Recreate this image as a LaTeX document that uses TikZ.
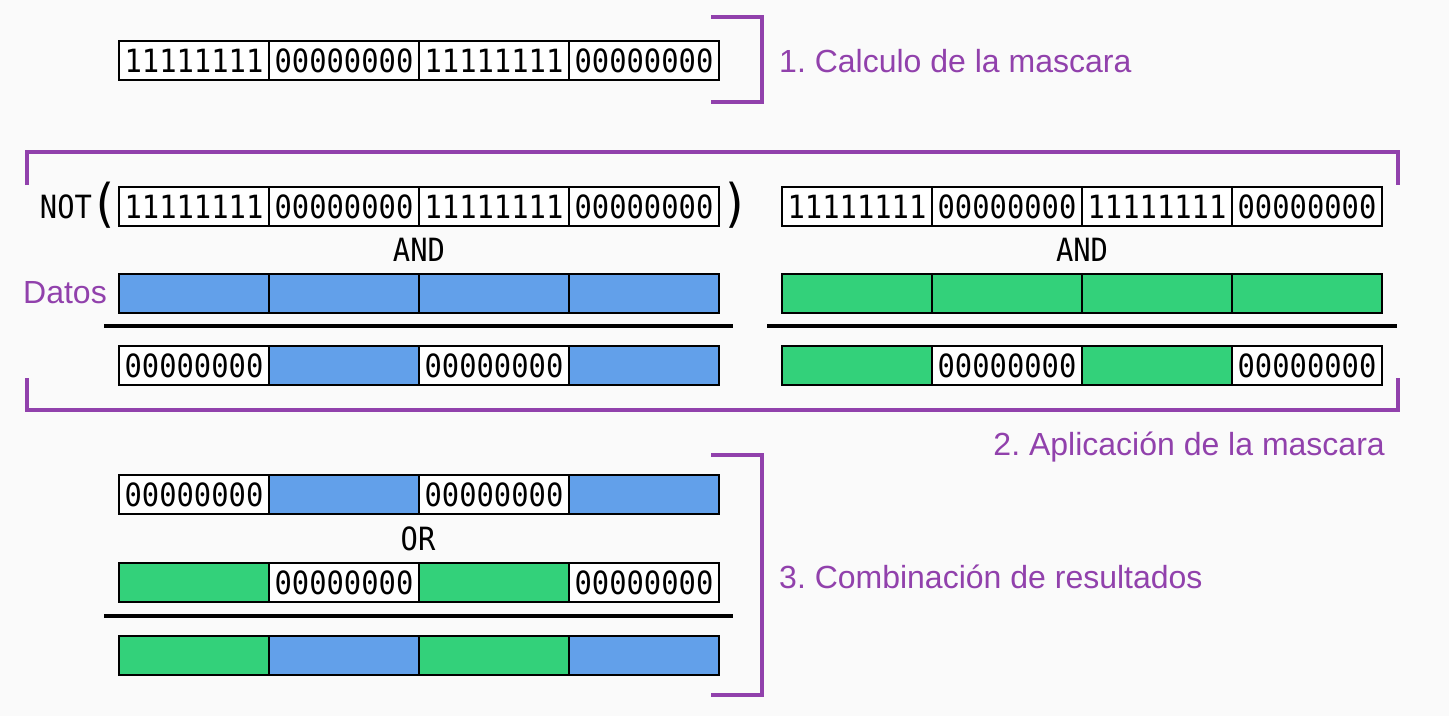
\documentclass[tikz,border=0pt]{standalone}
\usepackage{fontspec}
\setmainfont{Liberation Sans}
\newfontfamily\monof[FakeStretch=0.9]{DejaVu Sans Mono}
\definecolor{bg}{HTML}{FAFAFA}
\definecolor{pur}{HTML}{9141AC}
\definecolor{blu}{HTML}{62A0EA}
\definecolor{grn}{HTML}{33D17A}
\frenchspacing
\begin{document}
\begin{tikzpicture}[x=1pt,y=-1pt,
 cell/.style={draw=black,line width=2.5pt,minimum width=150pt,minimum height=39pt,inner sep=0pt,font=\monof\fontsize{32}{32}\selectfont},
 wcell/.style={cell,fill=white},
 bcell/.style={cell,fill=blu},
 gcell/.style={cell,fill=grn},
 brk/.style={draw=pur,line width=4pt},
 lab/.style={text=pur,font=\fontsize{32}{38}\selectfont,inner sep=0pt},
 op/.style={font=\monof\fontsize{32}{32}\selectfont,inner sep=0pt},
 par/.style={font=\monof\fontsize{52}{52}\selectfont,inner sep=0pt},
 sepline/.style={draw=black,line width=4pt}]
\fill[bg] (0,0) rectangle (1449,716);
\useasboundingbox (0,0) rectangle (1449,716);

% 1. mask
\foreach \t [count=\i] in {11111111,00000000,11111111,00000000}
  \node[wcell] (m\i) at ({44+150*\i},60.5) {\t};
\draw[brk] (711,17) -- (762,17) -- (762,102) -- (711,102);
\node[lab,anchor=base west] (l1) at (779,72) {1. Calculo de la mascara};

% 2. application - left
\node[op] (not) at (66,207) {NOT};
\node[par] (po) at (105,205) {(};
\foreach \t [count=\i] in {11111111,00000000,11111111,00000000}
  \node[wcell] (n\i) at ({44+150*\i},206.5) {\t};
\node[par] (pc) at (736,205) {)};
\node[op] (and1) at (419,250) {AND};
\node[lab,anchor=base east] (datos) at (107,303) {Datos};
\foreach \i in {1,2,3,4}
  \node[bcell] (d\i) at ({44+150*\i},293.5) {};
\coordinate (s1a) at (104,326);
\coordinate (s1b) at (733,326);
\draw[sepline] (s1a) -- (s1b);
\foreach \s/\t [count=\i] in {wcell/00000000,bcell/{},wcell/00000000,bcell/{}}
  \node[\s] (ra\i) at ({44+150*\i},365.5) {\t};

% 2. application - right
\foreach \t [count=\i] in {11111111,00000000,11111111,00000000}
  \node[wcell] (k\i) at ({707+150*\i},206.5) {\t};
\node[op] (and2) at (1082,250) {AND};
\foreach \i in {1,2,3,4}
  \node[gcell] (e\i) at ({707+150*\i},293.5) {};
\coordinate (s2a) at (767,326);
\coordinate (s2b) at (1397,326);
\draw[sepline] (s2a) -- (s2b);
\foreach \s/\t [count=\i] in {gcell/{},wcell/00000000,gcell/{},wcell/00000000}
  \node[\s] (rb\i) at ({707+150*\i},365.5) {\t};

\draw[brk] (27,185) -- (27,152) -- (1398,152) -- (1398,185);
\draw[brk] (27,378) -- (27,410) -- (1398,410) -- (1398,378);
\node[lab,anchor=base east] (l2) at (1385,455) {2. Aplicación de la mascara};

% 3. combination
\foreach \s/\t [count=\i] in {wcell/00000000,bcell/{},wcell/00000000,bcell/{}}
  \node[\s] (ca\i) at ({44+150*\i},494.5) {\t};
\node[op] (or) at (418,539) {OR};
\foreach \s/\t [count=\i] in {gcell/{},wcell/00000000,gcell/{},wcell/00000000}
  \node[\s] (cb\i) at ({44+150*\i},582.5) {\t};
\coordinate (s3a) at (104,616);
\coordinate (s3b) at (733,616);
\draw[sepline] (s3a) -- (s3b);
\foreach \s [count=\i] in {gcell,bcell,gcell,bcell}
  \node[\s] (cc\i) at ({44+150*\i},655.5) {};
\draw[brk] (711,455) -- (762,455) -- (762,695) -- (711,695);
\node[lab,anchor=base west] (l3) at (779,588) {3. Combinación de resultados};
\end{tikzpicture}
\end{document}
